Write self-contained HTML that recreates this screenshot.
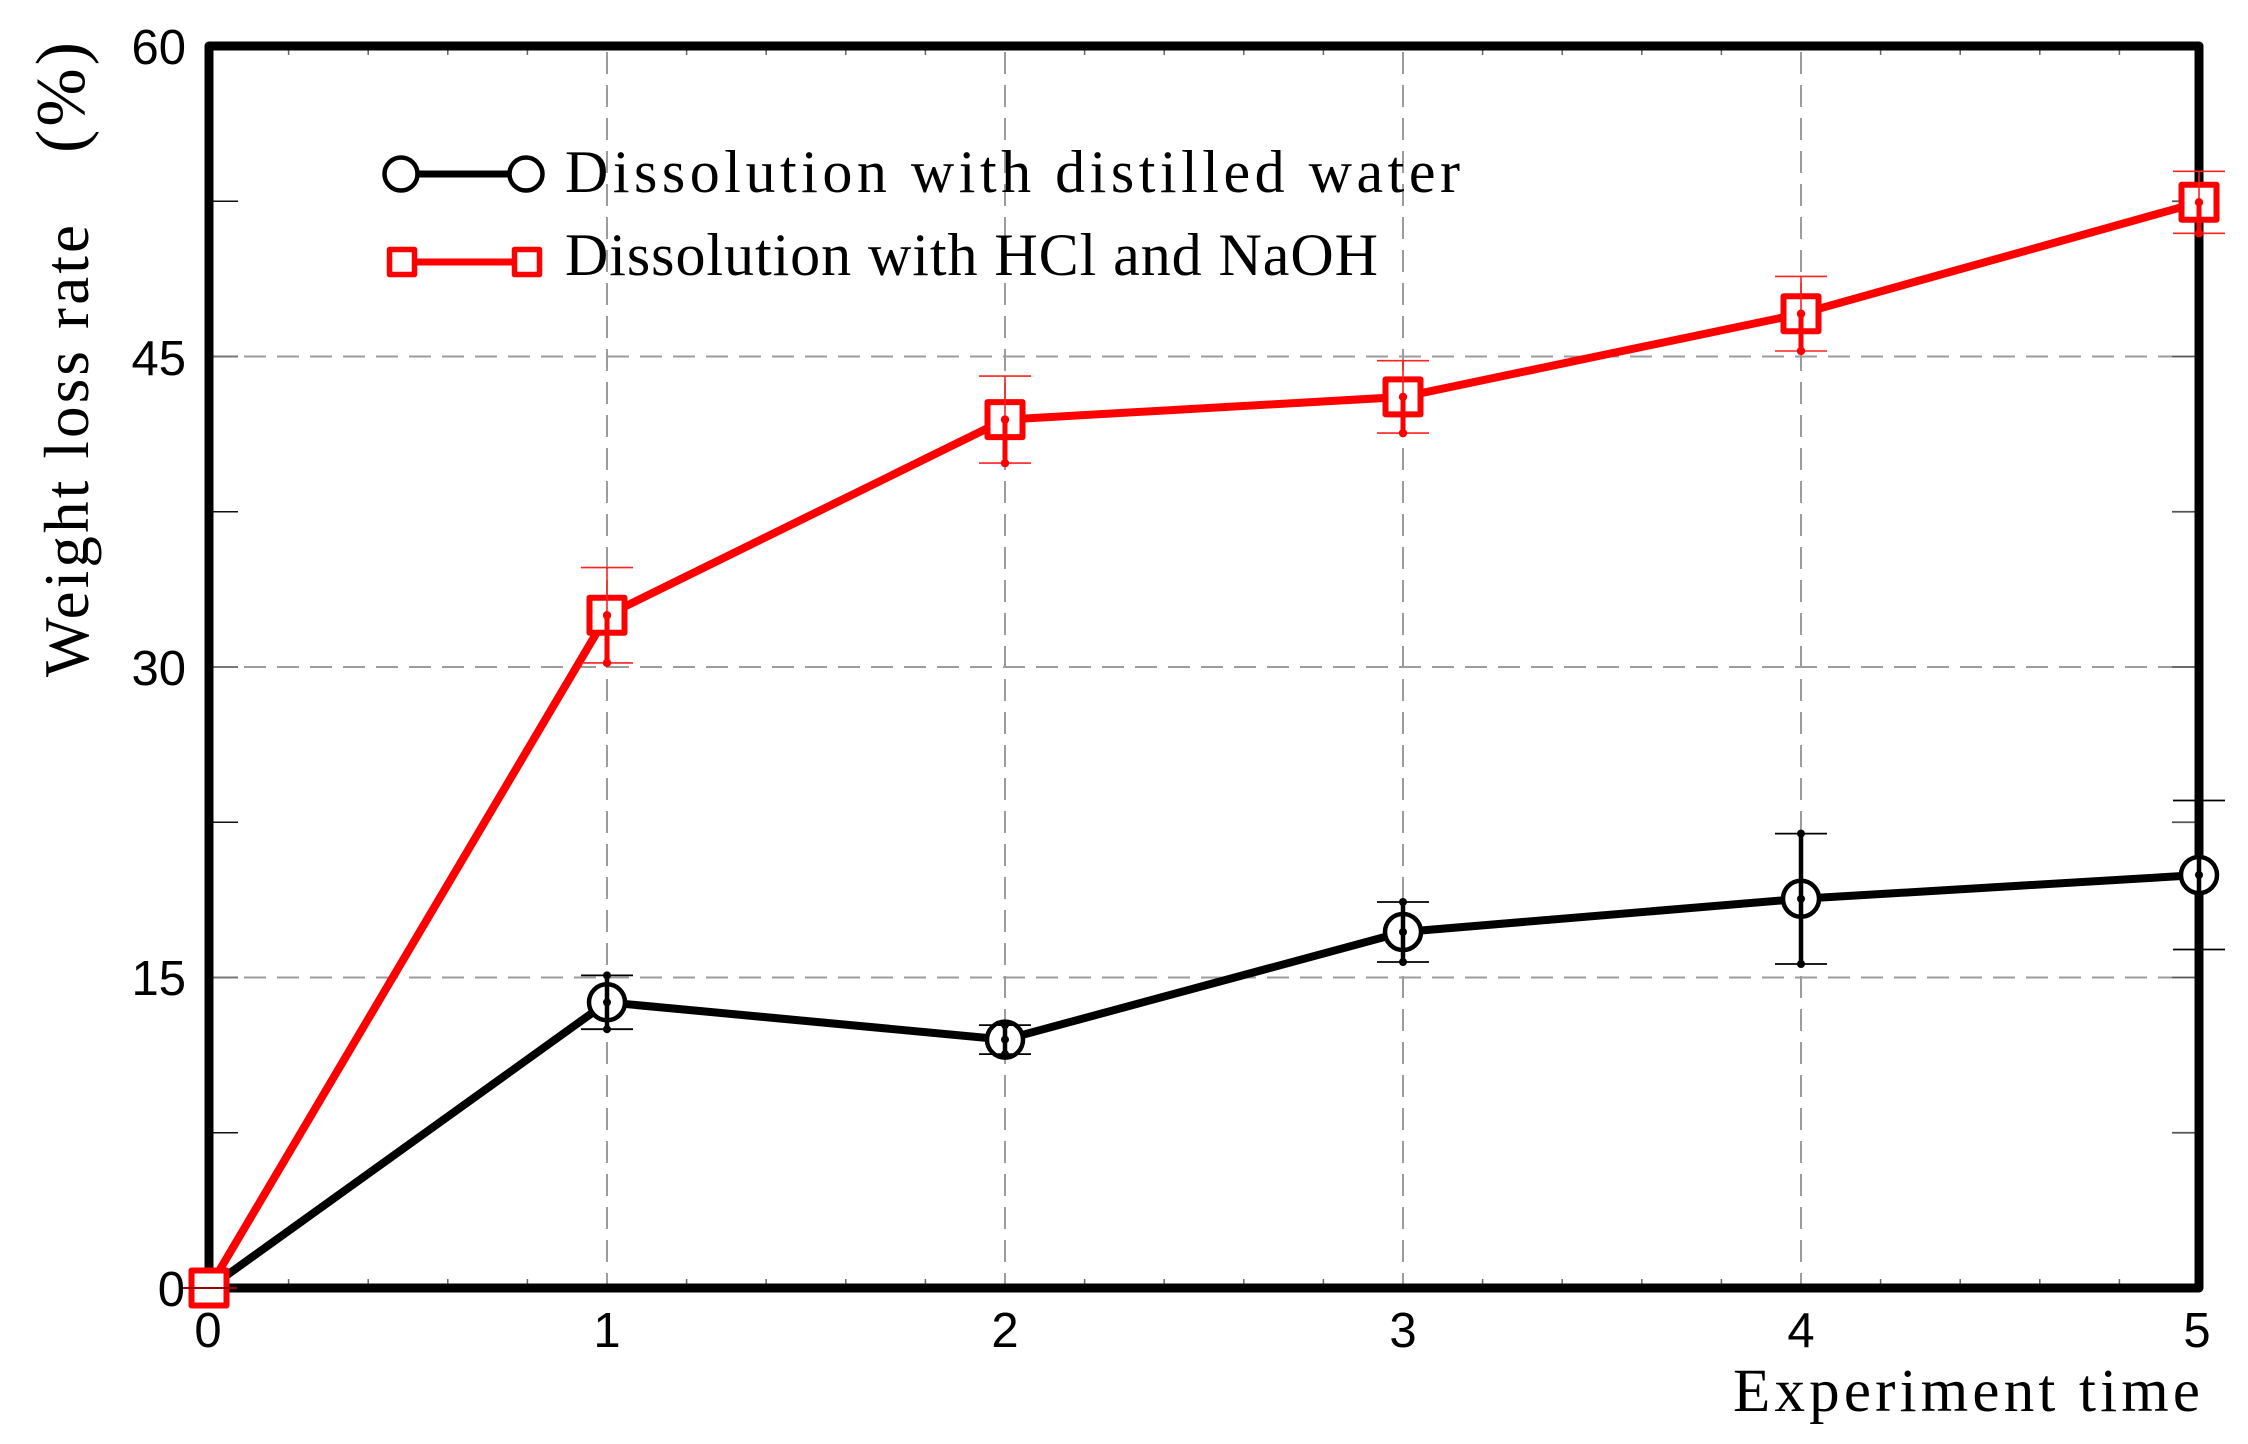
<!DOCTYPE html>
<html>
<head>
<meta charset="utf-8">
<style>
html,body{margin:0;padding:0;background:#fff;}
svg{display:block;}
.tl{font-family:"Liberation Sans",Arial,sans-serif;font-size:49px;fill:#000;}
.sf{font-family:"Liberation Serif","Times New Roman",serif;fill:#000;}
</style>
</head>
<body>
<svg width="2248" height="1444" viewBox="0 0 2248 1444" xmlns="http://www.w3.org/2000/svg">
<rect x="0" y="0" width="2248" height="1444" fill="#fff"/>

<!-- grid -->
<g stroke="#9c9c9c" stroke-width="2" stroke-dasharray="22 11" fill="none">
  <line x1="607" y1="52" x2="607" y2="1284"/>
  <line x1="1005" y1="52" x2="1005" y2="1284"/>
  <line x1="1403" y1="52" x2="1403" y2="1284"/>
  <line x1="1801" y1="52" x2="1801" y2="1284"/>
  <line x1="244" y1="977.5" x2="2172" y2="977.5"/>
  <line x1="244" y1="667" x2="2172" y2="667"/>
  <line x1="244" y1="356.5" x2="2172" y2="356.5"/>
</g>

<!-- y ticks left -->
<g stroke="#777" stroke-width="2">
  <line x1="213" y1="977.5" x2="238" y2="977.5"/>
  <line x1="213" y1="667" x2="238" y2="667"/>
  <line x1="213" y1="356.5" x2="238" y2="356.5"/>
</g>
<g stroke="#111" stroke-width="1.6">
  <line x1="213" y1="1132.75" x2="238" y2="1132.75"/>
  <line x1="213" y1="822.25" x2="238" y2="822.25"/>
  <line x1="213" y1="511.75" x2="238" y2="511.75"/>
  <line x1="213" y1="201.25" x2="238" y2="201.25"/>
</g>
<!-- y ticks right -->
<g stroke="#555" stroke-width="1.8">
  <line x1="2195" y1="1132.75" x2="2172" y2="1132.75"/>
  <line x1="2195" y1="977.5" x2="2172" y2="977.5"/>
  <line x1="2195" y1="822.25" x2="2172" y2="822.25"/>
  <line x1="2195" y1="667" x2="2172" y2="667"/>
  <line x1="2195" y1="511.75" x2="2172" y2="511.75"/>
  <line x1="2195" y1="356.5" x2="2172" y2="356.5"/>
  <line x1="2195" y1="201.25" x2="2172" y2="201.25"/>
</g>
<!-- x minor ticks -->
<path stroke="#666" stroke-width="1.5" fill="none" d="
M288.6 50v5 M368.2 50v5 M447.8 50v5 M527.4 50v5 M686.6 50v5 M766.2 50v5 M845.8 50v5 M925.4 50v5
M1084.6 50v5 M1164.2 50v5 M1243.8 50v5 M1323.4 50v5 M1482.6 50v5 M1562.2 50v5 M1641.8 50v5 M1721.4 50v5
M1880.6 50v5 M1960.2 50v5 M2039.8 50v5 M2119.4 50v5
M288.6 1284v-5 M368.2 1284v-5 M447.8 1284v-5 M527.4 1284v-5 M686.6 1284v-5 M766.2 1284v-5 M845.8 1284v-5 M925.4 1284v-5
M1084.6 1284v-5 M1164.2 1284v-5 M1243.8 1284v-5 M1323.4 1284v-5 M1482.6 1284v-5 M1562.2 1284v-5 M1641.8 1284v-5 M1721.4 1284v-5
M1880.6 1284v-5 M1960.2 1284v-5 M2039.8 1284v-5 M2119.4 1284v-5"/>

<!-- frame -->
<rect x="209" y="46" width="1990" height="1242" fill="none" stroke="#000" stroke-width="9" stroke-linejoin="round"/>

<!-- tick labels -->
<g class="tl" text-anchor="end">
  <text x="186" y="64">60</text>
  <text x="186" y="375">45</text>
  <text x="186" y="685">30</text>
  <text x="186" y="995">15</text>
  <text x="185" y="1306">0</text>
</g>
<g class="tl" text-anchor="middle">
  <text x="208" y="1347">0</text>
  <text x="607" y="1347">1</text>
  <text x="1005" y="1347">2</text>
  <text x="1403" y="1347">3</text>
  <text x="1801" y="1347">4</text>
  <text x="2197" y="1347">5</text>
</g>

<!-- axis titles -->
<text class="sf" x="1733" y="1411" font-size="61" textLength="467" lengthAdjust="spacing">Experiment time</text>
<text class="sf" transform="translate(88,677) rotate(-90)" font-size="63" textLength="452" lengthAdjust="spacing">Weight loss rate</text>
<text class="sf" transform="translate(84,153) rotate(-90)" font-size="70" textLength="111" lengthAdjust="spacing">(%)</text>

<!-- black series -->
<polyline points="209,1288 607,1002.3 1005,1039.6 1403,932 1801,898.8 2199,875" fill="none" stroke="#000" stroke-width="8" stroke-linejoin="round"/>
<!-- red series -->
<polyline points="209,1288 607,615.3 1005,419.6 1403,396.9 1801,313.7 2199,202.3" fill="none" stroke="#ff0000" stroke-width="8" stroke-linejoin="round"/>

<!-- black markers -->
<g fill="#fff" stroke="#000" stroke-width="4.5">
  <circle cx="209" cy="1288" r="18"/>
  <circle cx="607" cy="1002.3" r="18"/>
  <circle cx="1005" cy="1039.6" r="18"/>
  <circle cx="1403" cy="932" r="18"/>
  <circle cx="1801" cy="898.8" r="18"/>
  <circle cx="2199" cy="875" r="18"/>
</g>
<!-- black error bars -->
<g stroke="#000" fill="#000">
  <g stroke-width="4.5">
    <line x1="607" y1="975.4" x2="607" y2="1029.2"/>
    <line x1="1005" y1="1025.1" x2="1005" y2="1054.1"/>
    <line x1="1403" y1="902" x2="1403" y2="962"/>
    <line x1="1801" y1="833.6" x2="1801" y2="964"/>
    <line x1="2199" y1="800.5" x2="2199" y2="949.5"/>
  </g>
  <g stroke-width="1.8">
    <line x1="581" y1="975.4" x2="633" y2="975.4"/><line x1="581" y1="1029.2" x2="633" y2="1029.2"/>
    <line x1="979" y1="1025.1" x2="1031" y2="1025.1"/><line x1="979" y1="1054.1" x2="1031" y2="1054.1"/>
    <line x1="1377" y1="902" x2="1429" y2="902"/><line x1="1377" y1="962" x2="1429" y2="962"/>
    <line x1="1775" y1="833.6" x2="1827" y2="833.6"/><line x1="1775" y1="964" x2="1827" y2="964"/>
    <line x1="2173" y1="800.5" x2="2225" y2="800.5"/><line x1="2173" y1="949.5" x2="2225" y2="949.5"/>
  </g>
  <g stroke="none">
    <circle cx="607" cy="975.4" r="4"/><circle cx="607" cy="1002.3" r="4"/><circle cx="607" cy="1029.2" r="4"/>
    <circle cx="1005" cy="1025.1" r="4"/><circle cx="1005" cy="1039.6" r="4"/><circle cx="1005" cy="1054.1" r="4"/>
    <circle cx="1403" cy="902" r="4"/><circle cx="1403" cy="932" r="4"/><circle cx="1403" cy="962" r="4"/>
    <circle cx="1801" cy="833.6" r="4"/><circle cx="1801" cy="898.8" r="4"/><circle cx="1801" cy="964" r="4"/>
    <circle cx="2199" cy="800.5" r="4"/><circle cx="2199" cy="875" r="4"/><circle cx="2199" cy="949.5" r="4"/>
  </g>
</g>

<!-- red markers -->
<g fill="#fff" stroke="#ff0000" stroke-width="6" stroke-linejoin="round">
  <rect x="191.5" y="1270.5" width="35" height="35"/>
  <rect x="589.5" y="597.8" width="35" height="35"/>
  <rect x="987.5" y="402.1" width="35" height="35"/>
  <rect x="1385.5" y="379.4" width="35" height="35"/>
  <rect x="1783.5" y="296.2" width="35" height="35"/>
  <rect x="2181.5" y="184.8" width="35" height="35"/>
</g>
<!-- red error bars -->
<g stroke="#ff2020" fill="#ff0000">
  <g stroke-width="1.6">
    <line x1="607" y1="567.6" x2="607" y2="662.9"/>
    <line x1="1005" y1="376.1" x2="1005" y2="463.1"/>
    <line x1="1403" y1="360.7" x2="1403" y2="433.1"/>
    <line x1="1801" y1="276.4" x2="1801" y2="351"/>
    <line x1="2199" y1="171.3" x2="2199" y2="233.3"/>
    <line x1="581" y1="567.6" x2="633" y2="567.6"/><line x1="581" y1="662.9" x2="633" y2="662.9"/>
    <line x1="979" y1="376.1" x2="1031" y2="376.1"/><line x1="979" y1="463.1" x2="1031" y2="463.1"/>
    <line x1="1377" y1="360.7" x2="1429" y2="360.7"/><line x1="1377" y1="433.1" x2="1429" y2="433.1"/>
    <line x1="1775" y1="276.4" x2="1827" y2="276.4"/><line x1="1775" y1="351" x2="1827" y2="351"/>
    <line x1="2173" y1="171.3" x2="2225" y2="171.3"/><line x1="2173" y1="233.3" x2="2225" y2="233.3"/>
  </g>
  <line x1="183" y1="1288" x2="237" y2="1288" stroke="#a00000" stroke-width="2"/>
  <g stroke="#ff0000" stroke-width="5">
    <line x1="607" y1="615.3" x2="607" y2="662.9"/>
    <line x1="1005" y1="419.6" x2="1005" y2="463.1"/>
    <line x1="1403" y1="396.9" x2="1403" y2="433.1"/>
    <line x1="1801" y1="313.7" x2="1801" y2="351"/>
    <line x1="2199" y1="202.3" x2="2199" y2="233.3"/>
  </g>
  <g stroke="none">
    <circle cx="607" cy="615.3" r="4.2"/><circle cx="607" cy="662.9" r="4.2"/>
    <circle cx="1005" cy="419.6" r="4.2"/><circle cx="1005" cy="463.1" r="4.2"/>
    <circle cx="1403" cy="396.9" r="4.2"/><circle cx="1403" cy="433.1" r="4.2"/>
    <circle cx="1801" cy="313.7" r="4.2"/><circle cx="1801" cy="351" r="4.2"/>
    <circle cx="2199" cy="202.3" r="4.2"/><circle cx="2199" cy="233.3" r="4.2"/>
  </g>
</g>

<!-- legend -->
<line x1="401" y1="174" x2="526" y2="174" stroke="#000" stroke-width="7"/>
<circle cx="401" cy="174" r="16.5" fill="#fff" stroke="#000" stroke-width="4.5"/>
<circle cx="526" cy="174" r="16.5" fill="#fff" stroke="#000" stroke-width="4.5"/>
<line x1="402" y1="262" x2="527" y2="262" stroke="#ff0000" stroke-width="7"/>
<rect x="389.5" y="249.5" width="25" height="25" fill="#fff" stroke="#ff0000" stroke-width="5.5" stroke-linejoin="round"/>
<rect x="514.5" y="249.5" width="25" height="25" fill="#fff" stroke="#ff0000" stroke-width="5.5" stroke-linejoin="round"/>
<text class="sf" x="565" y="192" font-size="60" textLength="895" lengthAdjust="spacing">Dissolution with distilled water</text>
<text class="sf" x="565" y="275" font-size="60" textLength="813" lengthAdjust="spacing">Dissolution with HCl and NaOH</text>
</svg>
</body>
</html>
